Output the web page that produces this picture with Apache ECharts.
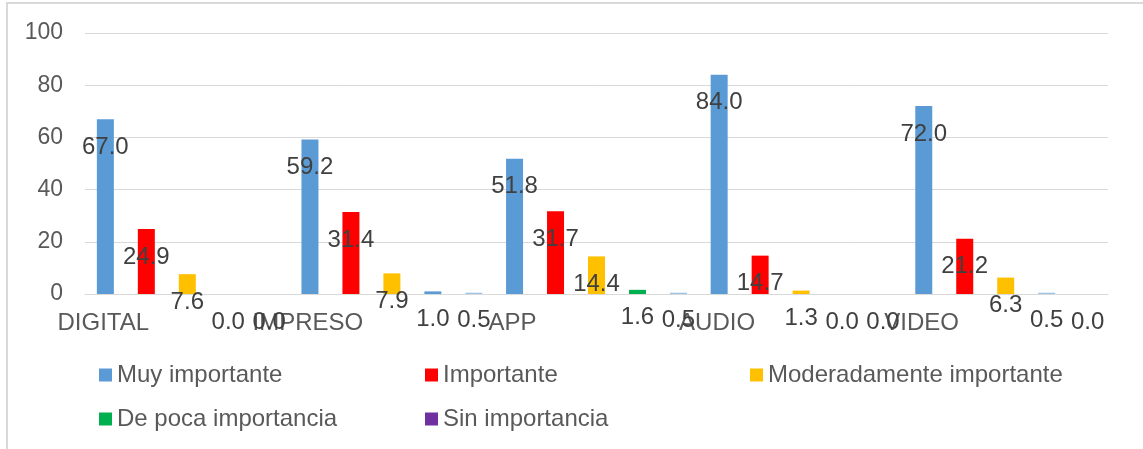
<!DOCTYPE html>
<html>
<head>
<meta charset="utf-8">
<script src="https://cdn.jsdelivr.net/npm/echarts@6/dist/echarts.min.js"></script>
<style>
  html, body { margin: 0; padding: 0; background: #fff; }
  #chart { width: 1143px; height: 449px; }
</style>
</head>
<body>
<div id="chart"></div>
<script>
// categorias y valores
var categories = ['DIGITAL', 'IMPRESO', 'APP', 'AUDIO', 'VIDEO'];
var muyImportante = [67.0, 59.2, 51.8, 84.0, 72.0];
var importante = [24.9, 31.4, 31.7, 14.7, 21.2];
var moderado = [7.6, 7.9, 14.4, 1.3, 6.3];
var pocaImportancia = [0.0, 1.0, 1.6, 0.0, 0.5];
var sinImportancia = [0.0, 0.5, 0.5, 0.0, 0.0];
var yTicks = [0, 20, 40, 60, 80, 100];

var seriesNames = ['Muy importante', 'Importante', 'Moderadamente importante', 'De poca importancia', 'Sin importancia'];
var colors = ['#5B9BD5', '#FF0000', '#FFC000', '#00B050', '#7030A0'];

// algunos puntos tienen color propio en el original
var pointColors = {
  3: { 1: '#5B9BD5', 4: '#9DC3E6' },
  4: { 1: '#9DC3E6', 2: '#9DC3E6' }
};

var font = 'Liberation Sans, Arial, sans-serif';
var allData = [muyImportante, importante, moderado, pocaImportancia, sinImportancia];

var series = allData.map(function (vals, s) {
  return {
    name: seriesNames[s],
    type: 'bar',
    barWidth: 17,
    barGap: '141%',
    itemStyle: { color: colors[s] },
    data: vals.map(function (v, i) {
      var c = pointColors[s] && pointColors[s][i];
      return c ? { value: v, itemStyle: { color: c } } : v;
    }),
    label: {
      show: true,
      position: 'insideTop',
      distance: 16,
      color: '#404040',
      fontSize: 24,
      fontFamily: font,
      formatter: function (p) { return Number(p.value).toFixed(1); }
    }
  };
});

var legendX = [99, 425, 750, 99, 425];
var legendY = [363, 363, 363, 407, 407];
var legends = seriesNames.map(function (n, i) {
  return {
    data: [n],
    left: legendX[i],
    top: legendY[i],
    padding: 0,
    icon: 'rect',
    itemWidth: 13,
    itemHeight: 13,
    itemGap: 5,
    textStyle: { fontSize: 24, color: '#595959', fontFamily: font },
    selectedMode: false
  };
});

var myChart = echarts.init(document.getElementById('chart'));
var option = {
  animation: false,
  color: colors,
  textStyle: { fontFamily: font },
  graphic: [{
    type: 'rect',
    shape: { x: 7, y: 3, width: 1160, height: 470 },
    style: { fill: 'none', stroke: '#D9D9D9', lineWidth: 2 },
    silent: true
  }],
  legend: legends,
  grid: { left: 85, right: 35, top: 33, bottom: 155 },
  xAxis: {
    type: 'category',
    data: categories,
    axisLine: { show: true, lineStyle: { color: '#D9D9D9', width: 1 } },
    axisTick: { show: false },
    axisLabel: {
      color: '#595959',
      fontSize: 24,
      fontFamily: font,
      margin: 17,
      padding: [0, 168, 0, 0]
    }
  },
  yAxis: {
    type: 'value',
    min: yTicks[0],
    max: yTicks[yTicks.length - 1],
    interval: 20,
    axisLine: { show: false },
    axisTick: { show: false },
    splitLine: { lineStyle: { color: '#D9D9D9', width: 1 } },
    axisLabel: { color: '#595959', fontSize: 23, fontFamily: font, margin: 22 }
  },
  series: series
};
option && myChart.setOption(option);
</script>
</body>
</html>
